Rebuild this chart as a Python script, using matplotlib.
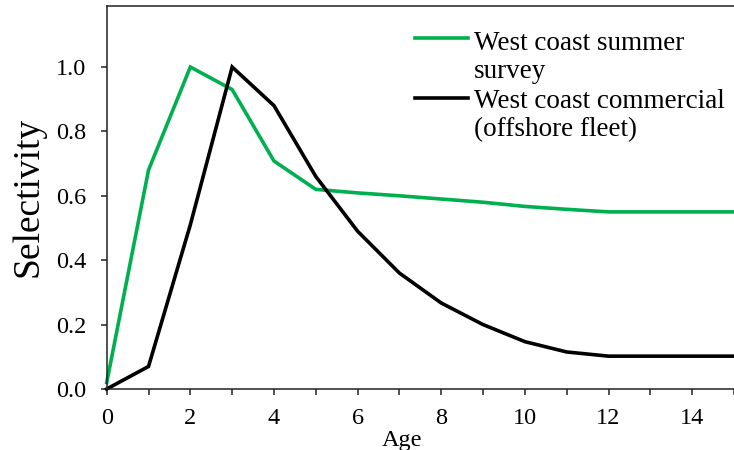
import matplotlib
matplotlib.use("Agg")
import matplotlib.pyplot as plt
from matplotlib.lines import Line2D

plt.rcParams['font.family'] = ['Liberation Serif', 'DejaVu Serif']

ages = list(range(0, 16))
survey = [0.02, 0.68, 1.0, 0.93, 0.708, 0.62, 0.609, 0.60, 0.59, 0.58,
          0.567, 0.558, 0.55, 0.55, 0.55, 0.55]
commercial = [0.0, 0.07, 0.51, 1.0, 0.88, 0.66, 0.49, 0.36, 0.267, 0.2,
              0.147, 0.115, 0.102, 0.102, 0.102, 0.102]
legend_labels = [["West coast summer", "survey"],
                 ["West coast commercial", "(offshore fleet)"]]
xtick_vals = list(range(0, 16))
xtick_labels = [str(v) if v % 2 == 0 else "" for v in xtick_vals]
ytick_vals = [0.0, 0.2, 0.4, 0.6, 0.8, 1.0]

W, H = 734, 450
fig = plt.figure(figsize=(W / 100, H / 100), dpi=100)
ax = fig.add_axes([106.7 / W, 1 - 389 / H, 1 - 106.7 / W, (389 - 6) / H])

green = "#00B050"
ax.plot(ages, survey, color=green, lw=2.6, solid_joinstyle="miter", clip_on=False)
ax.plot(ages, commercial, color="black", lw=2.6, solid_joinstyle="miter", clip_on=False)

ax.set_xlim(0, (734 - 106.7) / 42.3)
ax.set_ylim(0, 383 / 322)
ax.set_xticks(xtick_vals)
ax.set_xticklabels(xtick_labels)
ax.set_yticks(ytick_vals)
ax.set_yticklabels([f"{v:.1f}" for v in ytick_vals])

for s in ["left", "bottom", "top"]:
    ax.spines[s].set_linewidth(1.1)
    ax.spines[s].set_color("#222222")
ax.spines["right"].set_visible(False)
ax.tick_params(axis="both", direction="out", length=4.5, width=1.1,
               color="#222222", labelsize=17.5)
ax.tick_params(axis="y", pad=10)
ax.tick_params(axis="x", pad=9)

fig.text(28 / W, 1 - 197 / H, "Selectivity", rotation=90, fontsize=27,
         ha="center", va="center")
fig.text(402 / W, 1 - 446 / H, "Age", fontsize=17.5, ha="center", va="baseline")

# legend drawn by hand: handle beside the first line of each two-line label
entries = [(green, legend_labels[0], 38.3, (50, 78.3)),
           ("black", legend_labels[1], 98.3, (108.3, 136))]
for col, lines, ly, bases in entries:
    fig.add_artist(Line2D([415 / W, 468 / W], [1 - ly / H, 1 - ly / H],
                          color=col, lw=2.6, transform=fig.transFigure))
    for txt, base in zip(lines, bases):
        fig.text(474 / W, 1 - base / H, txt, fontsize=19.5, ha="left",
                 va="baseline")

fig.savefig("out.png", dpi=100)
